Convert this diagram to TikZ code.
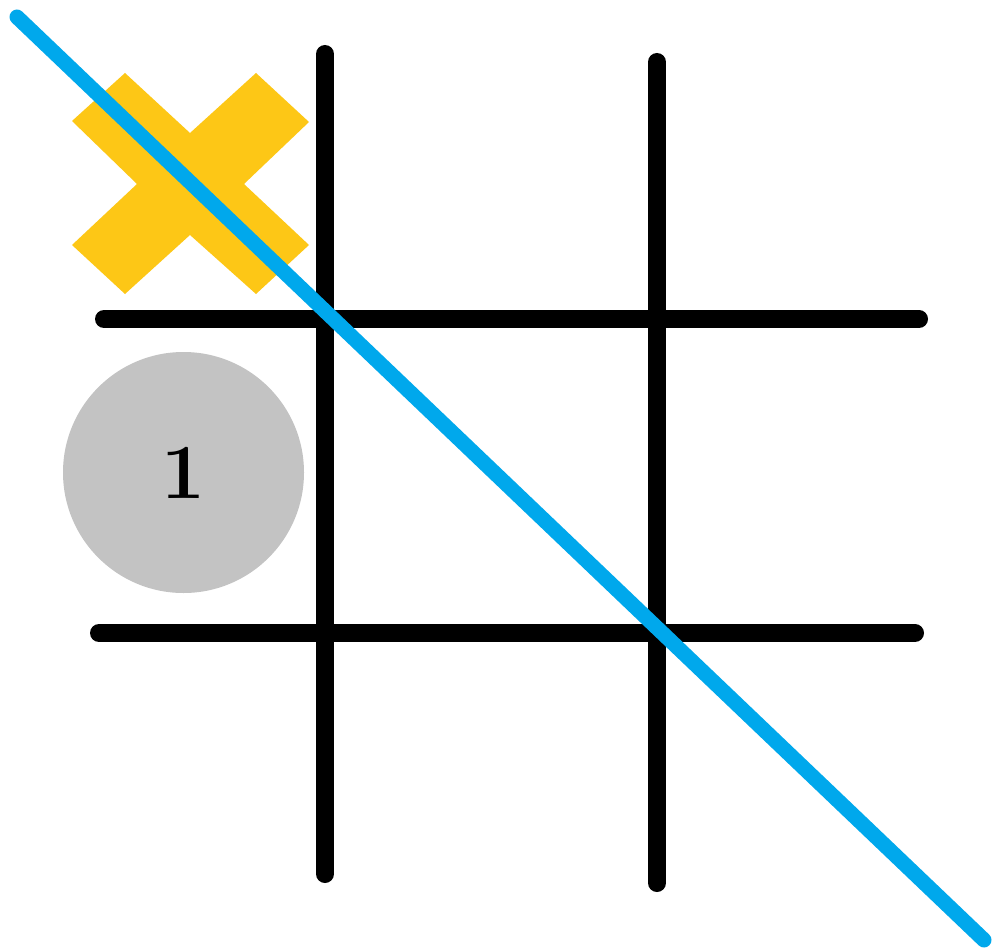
\documentclass[tikz,border=0pt]{standalone}
\begin{document}
\begin{tikzpicture}[x=1pt,y=-1pt,
  gridline/.style={line width=18pt,line cap=round,black},
  winline/.style={line width=15pt,line cap=round,draw=winblue}]
\definecolor{winblue}{HTML}{00A8EC}
\definecolor{xyellow}{HTML}{FDC716}
\definecolor{ogray}{HTML}{C3C3C3}
\useasboundingbox[fill=white] (0,0) rectangle (998,952);
% grid
\draw[gridline] (325,54) -- (325,874);
\draw[gridline] (657,62) -- (657,883);
\draw[gridline] (104,319) -- (919,319);
\draw[gridline] (99,633) -- (915,633);
% X mark
\fill[xyellow] (72,121) -- (125,73) -- (190,133) -- (256,73) -- (309,122) -- (244,184)
  -- (309,245) -- (256,294) -- (190,235) -- (125,294) -- (72,245) -- (137,184) -- cycle;
% O mark
\node[circle,fill=ogray,minimum size=241pt,inner sep=0pt] (o) at (183.5,472.5) {};
\node[font=\fontsize{78}{78}\selectfont\bfseries] (olabel) at (o.center) {1};
% winning line
\coordinate (ws) at (17,17);
\coordinate (we) at (984,940);
\draw[winline] (ws) -- (we);
\end{tikzpicture}
\end{document}
